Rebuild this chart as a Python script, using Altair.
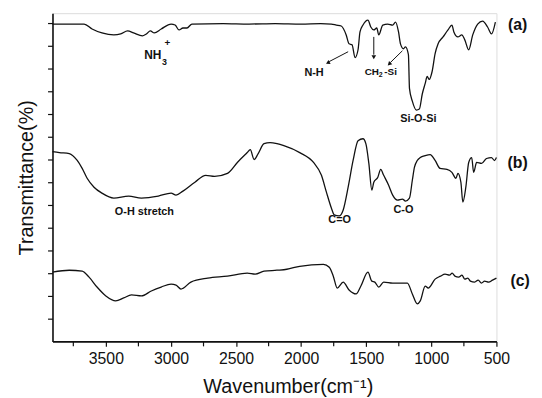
import altair as alt
import pandas as pd

# ---- data (wavenumber in cm-1, transmittance in arbitrary offset units) ----
wn_a = [3910, 3667, 3606, 3530, 3439, 3386, 3333, 3287, 3219, 3189, 3158, 3128, 3075, 2999,
        2968, 2938, 2908, 2877, 2839, 2600, 2400, 2200, 2000, 1850, 1768, 1730, 1692, 1654,
        1632, 1609, 1586, 1563, 1548, 1525, 1487, 1465, 1442, 1419, 1404, 1373, 1335, 1297,
        1275, 1252, 1237, 1214, 1199, 1176, 1168, 1146, 1115, 1092, 1070, 1047, 1032, 1016,
        994, 971, 948, 910, 872, 842, 827, 796, 766, 743, 713, 682, 644, 606, 568, 538, 508]
t_a = [321, 321, 316, 312, 310, 311, 314, 312, 309, 311, 314, 312, 316, 321,
       320, 315, 317, 317, 321, 321.5, 321, 321.5, 321, 321.5, 321, 320, 319, 310,
       301, 300, 287, 295, 313, 320, 325, 318, 315, 317, 310, 320, 321, 320,
       323, 313, 301, 296, 298, 290, 256, 243, 234, 235, 250, 261, 268, 265,
       273, 291, 301, 308, 315, 320, 313, 308, 310, 305, 295, 310, 321, 324, 318, 311, 323]

wn_b = [3910, 3857, 3781, 3720, 3682, 3644, 3591, 3530, 3439, 3325, 3227, 3097, 2999, 2961,
        2908, 2816, 2733, 2665, 2566, 2490, 2414, 2391, 2361, 2330, 2285, 2239, 2186, 2133,
        2011, 1905, 1844, 1806, 1768, 1746, 1708, 1677, 1639, 1601, 1563, 1525, 1503, 1480,
        1457, 1442, 1411, 1389, 1366, 1328, 1297, 1260, 1222, 1199, 1168, 1146, 1130, 1108,
        1085, 1047, 1009, 971, 933, 880, 842, 811, 796, 773, 758, 735, 713, 690, 675, 652,
        614, 576, 538, 515, 500]
t_b = [192, 191, 190, 183, 175, 165, 156, 150, 145, 147, 145, 147, 150, 148,
       152, 161, 168, 167, 170, 181, 191, 194, 184, 190, 200, 201, 200, 198,
       191, 181, 168, 151, 135, 128, 127, 133, 156, 183, 203, 205, 200, 180,
       153, 161, 166, 174, 168, 158, 148, 143, 144, 142, 145, 163, 176, 183,
       186, 188, 189, 183, 175, 174, 171, 165, 170, 161, 141, 156, 181, 186, 171, 181,
       180, 185, 186, 183, 186]

wn_c = [3910, 3781, 3682, 3629, 3568, 3500, 3424, 3363, 3303, 3227, 3151, 3075, 2999, 2961,
        2923, 2847, 2718, 2566, 2414, 2353, 2285, 2186, 2110, 2011, 1829, 1784, 1753, 1723,
        1677, 1632, 1578, 1541, 1487, 1457, 1434, 1404, 1366, 1297, 1184, 1146, 1108, 1085,
        1047, 1024, 971, 930, 895, 860, 840, 819, 790, 765, 743, 720, 700, 667, 640, 615,
        591, 560, 530, 500]
t_c = [70, 72, 71, 65, 55, 46, 41, 44, 47, 46, 51, 55, 58, 57,
       53, 60, 64, 66, 69, 68, 71, 72, 73, 76, 78, 75, 66, 54,
       60, 52, 48, 56, 70, 61, 60, 55, 60, 59, 59, 48, 38, 41,
       56, 54, 63, 66, 68, 67, 69, 66, 65, 67, 63, 64, 61, 60, 62, 59,
       61, 60, 62, 64]

x_major = [3500, 3000, 2500, 2000, 1500, 1000, 500]
x_minor = [3750, 3250, 2750, 2250, 1750, 1250, 750]
y_ticks = [23, 46, 69, 92, 115, 138, 161, 184, 207, 230, 253, 276, 299, 322]

ann_text = ["NH", "3", "+", "N-H", "CH", "2", "-Si", "Si-O-Si", "O-H stretch", "C=O", "C-O",
            "(a)", "(b)", "(c)"]
ann_wn = [3140, 3050, 3027, 1901, 1457, 1389, 1313, 1100, 3204, 1704, 1214, 337, 337, 318]
ann_t = [290, 283, 302, 271, 272, 269, 272, 225, 131, 123, 133, 320, 180, 61]
ann_size = [12, 9, 10, 11, 10, 7, 10, 11, 11, 11, 11, 16, 16, 16]

arr_wn = [1639, 1442, 1222]
arr_t = [293, 308, 294]
arr_wn2 = [1785, 1442, 1315]
arr_t2 = [283, 290, 282]
head_wn = [1791, 1442, 1320]
head_t = [282, 288, 281]
head_angle = [242, 180, 226]

# ---- tables ----
rows = []
for name, xs, ys in (("a", wn_a, t_a), ("b", wn_b, t_b), ("c", wn_c, t_c)):
    for i, (x, y) in enumerate(zip(xs, ys)):
        rows.append({"series": name, "idx": i, "wn": x, "T": y})
df = pd.DataFrame(rows)
ann = pd.DataFrame({"text": ann_text, "wn": ann_wn, "T": ann_t, "size": ann_size})
arrows = pd.DataFrame({"wn": arr_wn, "T": arr_t, "wn2": arr_wn2, "T2": arr_t2})
heads = pd.DataFrame({"wn": head_wn, "T": head_t, "angle": head_angle})
minor = pd.DataFrame({"wn": x_minor})

FONT = "Liberation Sans"

xscale = alt.Scale(domain=[3910, 500], nice=False, zero=False)
yscale = alt.Scale(domain=[0, 332], nice=False, zero=False)

x_axis = alt.Axis(
    title="Wavenumber(cm⁻¹)", values=x_major, grid=False, format="d",
    labelFont=FONT, labelFontSize=16, labelColor="#111", labelPadding=4,
    tickSize=5, tickColor="#111", tickWidth=1.2,
    domainColor="#111", domainWidth=1.6,
    titleFont=FONT, titleFontSize=20, titleFontWeight="normal", titleColor="#111",
    titlePadding=11, titleX=238, titleAlign="center",
    labelFlush=False, labelOverlap=False,
)
y_axis = alt.Axis(
    title="Transmittance(%)", values=y_ticks, labels=False, grid=False,
    tickSize=5, tickColor="#111", tickWidth=1.2,
    domainColor="#111", domainWidth=1.6,
    titleFont=FONT, titleFontSize=20, titleFontWeight="normal", titleColor="#111",
    titlePadding=11,
)

lines = alt.Chart(df).mark_line(color="#111", strokeWidth=1.3, interpolate="monotone").encode(
    x=alt.X("wn:Q", scale=xscale, axis=x_axis),
    y=alt.Y("T:Q", scale=yscale, axis=y_axis),
    detail="series:N", order="idx:Q",
)

minor_ticks = alt.Chart(minor).mark_rule(color="#111", strokeWidth=1.2).encode(
    x=alt.X("wn:Q", scale=xscale, axis=x_axis),
    y=alt.value(332), y2=alt.value(337),
)

labels = alt.Chart(ann).mark_text(
    font=FONT, fontWeight="bold", color="#111", align="center", baseline="middle"
).encode(
    x=alt.X("wn:Q", scale=xscale, axis=x_axis),
    y=alt.Y("T:Q", scale=yscale, axis=y_axis),
    text="text:N",
    size=alt.Size("size:Q", scale=None, legend=None),
)

arrow_lines = alt.Chart(arrows).mark_rule(color="#111", strokeWidth=1).encode(
    x=alt.X("wn:Q", scale=xscale, axis=x_axis),
    y=alt.Y("T:Q", scale=yscale, axis=y_axis),
    x2="wn2:Q", y2="T2:Q",
)

arrow_heads = alt.Chart(heads).mark_point(
    shape="triangle", filled=True, color="#111", size=22, opacity=1
).encode(
    x=alt.X("wn:Q", scale=xscale, axis=x_axis),
    y=alt.Y("T:Q", scale=yscale, axis=y_axis),
    angle=alt.Angle("angle:Q", scale=None),
)

chart = alt.layer(lines, minor_ticks, arrow_lines, arrow_heads, labels).properties(
    width=449, height=332,
    autosize=alt.AutoSizeParams(type="none"),
    padding={"left": 45, "top": 3, "right": 38, "bottom": 55},
).configure_view(stroke=None).configure(background="white")

chart.save("out.html", embed_options={"renderer": "svg", "actions": False})
